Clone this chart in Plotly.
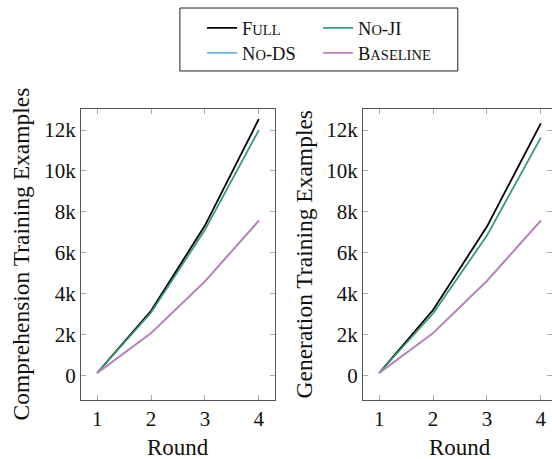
import plotly.graph_objects as go

rounds = [1, 2, 3, 4]
# Comprehension training examples
comp_full = [120, 3160, 7330, 12540]
comp_noji = [120, 3080, 7120, 12000]
comp_nods = [120, 2070, 4600, 7570]
comp_base = [120, 2070, 4600, 7570]
# Generation training examples
gen_full = [120, 3200, 7280, 12330]
gen_noji = [120, 3030, 6840, 11630]
gen_nods = [120, 2070, 4630, 7570]
gen_base = [120, 2070, 4630, 7570]

y_tickvals = [0, 2000, 4000, 6000, 8000, 10000, 12000]
y_ticktext = ["0", "2k", "4k", "6k", "8k", "10k", "12k"]
x_tickvals = [1, 2, 3, 4]

SC = "font-size:14.5px"
names = [f"F<span style='{SC}'>ULL</span>",
         f"N<span style='{SC}'>O</span>-JI",
         f"N<span style='{SC}'>O</span>-DS",
         f"B<span style='{SC}'>ASELINE</span>"]
colors = ["#000000", "#3a9a6f", "#6ab4e8", "#c57fb6"]
legends = ["legend", "legend2", "legend3", "legend4"]

FONT = "Liberation Serif, Times New Roman, serif"

fig = go.Figure()
series_left = [comp_full, comp_noji, comp_nods, comp_base]
series_right = [gen_full, gen_noji, gen_nods, gen_base]
for i in range(4):
    fig.add_trace(go.Scatter(x=rounds, y=series_left[i], mode="lines", name=names[i],
                             line=dict(color=colors[i], width=1.8), xaxis="x", yaxis="y",
                             legend=legends[i], showlegend=True))
for i in range(4):
    fig.add_trace(go.Scatter(x=rounds, y=series_right[i], mode="lines", name=names[i],
                             line=dict(color=colors[i], width=1.8), xaxis="x2", yaxis="y2",
                             showlegend=False))

axis_common = dict(showgrid=False, zeroline=False, showline=True, linecolor="#555555",
                   linewidth=1, mirror="allticks", ticks="inside", ticklen=5,
                   tickcolor="#aaaaaa", tickfont=dict(family=FONT, size=21, color="#111"))

col_x = [0.2570, (320 - 81 - 2) / 471]
row_y = [1.277, 1.191]
leg = {}
for i, key in enumerate(legends):
    leg[key] = dict(orientation="h", x=col_x[i % 2], y=row_y[i // 2], xanchor="left",
                    yanchor="middle", bgcolor="rgba(0,0,0,0)",
                    font=dict(family=FONT, size=18.5, color="#111"))

fig.update_layout(
    width=552, height=459,
    margin=dict(l=81, r=0, t=109, b=59),
    plot_bgcolor="white", paper_bgcolor="white",
    font=dict(family=FONT, color="#111"),
    xaxis=dict(domain=[0, 0.4119], range=[0.7, 4.3], tickvals=x_tickvals, **axis_common),
    yaxis=dict(range=[-1200, 13030], tickvals=y_tickvals, ticktext=y_ticktext, **axis_common),
    xaxis2=dict(domain=[0.5987, 1], range=[0.7, 4.207], tickvals=x_tickvals, anchor="y2", **axis_common),
    yaxis2=dict(range=[-1200, 13030], tickvals=y_tickvals, ticktext=y_ticktext, anchor="x2", **axis_common),
    shapes=[dict(type="rect", xref="paper", yref="paper", x0=0.210, x1=0.800,
                 y0=1.1306, y1=1.347, line=dict(color="#222", width=1))],
    annotations=[
        dict(text="Round", xref="x", yref="paper", x=2.5, y=-0.162, showarrow=False,
             font=dict(family=FONT, size=23, color="#111"), yanchor="middle"),
        dict(text="Round", xref="x2", yref="paper", x=2.5, y=-0.162, showarrow=False,
             font=dict(family=FONT, size=23, color="#111"), yanchor="middle"),
        dict(text="Comprehension Training Examples", xref="paper", yref="paper",
             x=-61 / 471, y=0.5, textangle=-90, showarrow=False, xanchor="center",
             font=dict(family=FONT, size=23.5, color="#111")),
        dict(text="Generation Training Examples", xref="paper", yref="paper",
             x=(303 - 81) / 471, y=0.5, textangle=-90, showarrow=False, xanchor="center",
             font=dict(family=FONT, size=23.5, color="#111")),
    ],
    **leg,
)

fig.write_html("out.html", config={"displayModeBar": False},
               post_script="document.body.style.margin='0px';document.body.style.overflow='hidden';")
